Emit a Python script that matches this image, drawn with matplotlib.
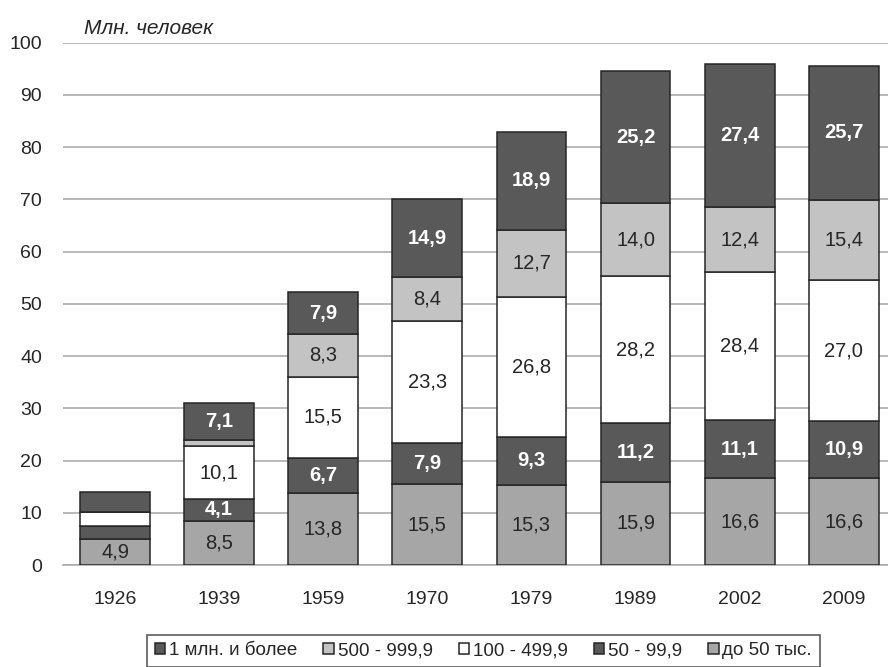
import matplotlib.pyplot as plt
import numpy as np

years = ['1926', '1939', '1959', '1970', '1979', '1989', '2002', '2009']
series_names = ['до 50 тыс.', '50 - 99,9', '100 - 499,9', '500 - 999,9', '1 млн. и более']
upto50 = [4.9, 8.5, 13.8, 15.5, 15.3, 15.9, 16.6, 16.6]
s50_99 = [2.5, 4.1, 6.7, 7.9, 9.3, 11.2, 11.1, 10.9]
s100_499 = [2.8, 10.1, 15.5, 23.3, 26.8, 28.2, 28.4, 27.0]
s500_999 = [0.0, 1.2, 8.3, 8.4, 12.7, 14.0, 12.4, 15.4]
s1mln = [3.8, 7.1, 7.9, 14.9, 18.9, 25.2, 27.4, 25.7]

# which segments carry a label (1926 only the bottom one, 1939 not the thin one)
show = [
    [True] * 8,
    [False] + [True] * 7,
    [False] + [True] * 7,
    [False, False] + [True] * 6,
    [False] + [True] * 7,
]

colors = ['#a6a6a6', '#595959', '#ffffff', '#c3c3c3', '#595959']
text_dark = [False, True, False, False, True]

plt.rcParams['font.family'] = ['Liberation Sans', 'DejaVu Sans']

fig = plt.figure(figsize=(8.88, 6.67), dpi=100)
ax = fig.add_axes([0.0709, 0.1529, 0.938, 0.783])

x = np.arange(len(years))
data = [upto50, s50_99, s100_499, s500_999, s1mln]
bottom = np.zeros(len(years))
handles = []
for i, vals in enumerate(data):
    vals = np.array(vals)
    b = ax.bar(x, vals, 0.67, bottom=bottom, color=colors[i], edgecolor='#262626',
               linewidth=1.1, label=series_names[i], zorder=3)
    handles.append(b)
    for j, v in enumerate(vals):
        if not show[i][j]:
            continue
        lbl = f'{v:.1f}'.replace('.', ',')
        if text_dark[i]:
            ax.text(x[j], bottom[j] + v / 2, lbl, ha='center', va='center',
                    color='white', fontsize=14.5, fontweight='bold', zorder=4)
        else:
            ax.text(x[j], bottom[j] + v / 2, lbl, ha='center', va='center',
                    color='#262626', fontsize=14.5, zorder=4)
    bottom += vals

ax.set_xlim(-0.5, len(years) - 0.5)
ax.set_ylim(0, 100)
ax.set_yticks(range(0, 101, 10))
ax.set_xticks(x)
ax.set_xticklabels(years)
ax.tick_params(axis='both', length=0, labelsize=14, colors='#262626')
ax.tick_params(axis='x', pad=19)
ax.tick_params(axis='y', pad=15)
ax.yaxis.grid(True, color='#a6a6a6', linewidth=1.1, zorder=0)
for s in ['top', 'right', 'left']:
    ax.spines[s].set_visible(False)
ax.spines['bottom'].set_color('#a6a6a6')
ax.spines['bottom'].set_linewidth(1.1)

fig.text(0.0946, 0.958, 'Млн. человек', fontsize=15, style='italic', color='#262626',
         ha='left', va='center')

leg = fig.legend(handles[::-1], series_names[::-1], loc='upper center',
                 bbox_to_anchor=(0.5445, 0.048), ncol=5, frameon=True, fontsize=13.5,
                 handlelength=0.55, handleheight=0.55, handletextpad=0.2, columnspacing=1.4,
                 fancybox=False, edgecolor='#333333', borderpad=0.4, borderaxespad=0,
                 labelcolor='#262626')
leg.get_frame().set_linewidth(1.2)

fig.savefig('out.png', dpi=100)
